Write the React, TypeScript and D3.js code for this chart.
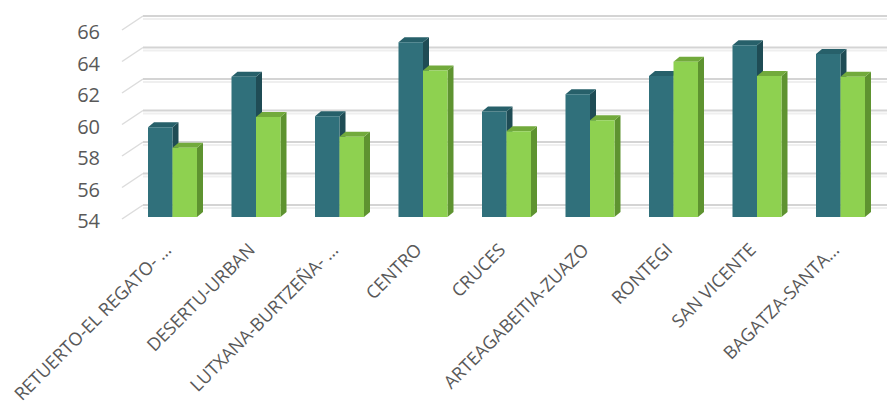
import React from "react";
import * as d3 from "d3";

const categories = [
  "RETUERTO-EL REGATO- …",
  "DESERTU-URBAN",
  "LUTXANA-BURTZEÑA- …",
  "CENTRO",
  "CRUCES",
  "ARTEAGABEITIA-ZUAZO",
  "RONTEGI",
  "SAN VICENTE",
  "BAGATZA-SANTA…",
];
const series1 = [59.7, 62.9, 60.4, 65.1, 60.7, 61.8, 62.95, 64.9, 64.35];
const series2 = [58.4, 60.35, 59.1, 63.3, 59.45, 60.15, 63.85, 62.95, 62.9];
const yTicks = [54, 56, 58, 60, 62, 64, 66];

const W = 887;
const H = 405;
const DX = 6;
const DY = -5;

const colors = [
  { front: "#30707b", side: "#1f4c55", top: "#27606a" },
  { front: "#8ed150", side: "#5e9330", top: "#72aa3c" },
];

export default function App() {
  const y = d3.scaleLinear().domain([54, 66]).range([217, 28]);
  const step = 83.5;
  const bw = 49;
  const pi = 1 - bw / step;
  const r0 = 148 - (step - bw) / 2;
  const x = d3
    .scaleBand<string>()
    .domain(categories)
    .range([r0, r0 + step * categories.length])
    .paddingInner(pi)
    .paddingOuter(pi / 2);
  const xs = d3.scaleBand<string>().domain(["a", "b"]).range([0, x.bandwidth()]);

  const bar = (cx: number, w: number, v: number, c: typeof colors[0], key: string) => {
    const yt = y(v);
    const yb = y(54);
    const front = `M${cx},${yt}H${cx + w}V${yb}H${cx}Z`;
    const side = `M${cx + w},${yt}L${cx + w + DX},${yt + DY}V${yb + DY}L${cx + w},${yb}Z`;
    const top = `M${cx},${yt}L${cx + DX},${yt + DY}H${cx + w + DX}L${cx + w},${yt}Z`;
    return (
      <g key={key}>
        <path d={side} fill={c.side} />
        <path d={top} fill={c.top} />
        <path d={front} fill={c.front} />
      </g>
    );
  };

  return (
    <svg
      width={W}
      height={H}
      style={{ position: "absolute", left: 0, top: 0, background: "#fff" }}
      fontFamily="'Open Sans', sans-serif"
    >
      {yTicks.map((t) => {
        const yf = y(t) + 2;
        const ybk = y(t) - 12;
        return (
          <g key={t}>
            <line x1={122} y1={yf} x2={143} y2={ybk} stroke="#dcdcdc" strokeWidth={1.5} />
            <line x1={143} y1={ybk} x2={W} y2={ybk} stroke="#d4d4d4" strokeWidth={2} />
            <line x1={143} y1={ybk + 3} x2={W} y2={ybk + 3} stroke="#efefef" strokeWidth={2} />
            <text
              x={100}
              y={y(t) + 6}
              textAnchor="end"
              dominantBaseline="middle"
              fontSize={20}
              fill="#595959"
            >
              {t}
            </text>
          </g>
        );
      })}
      {categories.map((c, i) => {
        const x0 = x(c) as number;
        return (
          <g key={c}>
            {bar(x0 + (xs("a") as number), xs.bandwidth(), series1[i], colors[0], "a")}
            {bar(x0 + (xs("b") as number), xs.bandwidth(), series2[i], colors[1], "b")}
          </g>
        );
      })}
      {categories.map((c) => {
        const cx = (x(c) as number) + x.bandwidth() / 2;
        const cy = 251;
        return (
          <text
            key={c}
            x={cx}
            y={cy}
            textAnchor="end"
            fontSize={18}
            fill="#595959"
            transform={`rotate(-45, ${cx}, ${cy})`}
          >
            {c}
          </text>
        );
      })}
    </svg>
  );
}
